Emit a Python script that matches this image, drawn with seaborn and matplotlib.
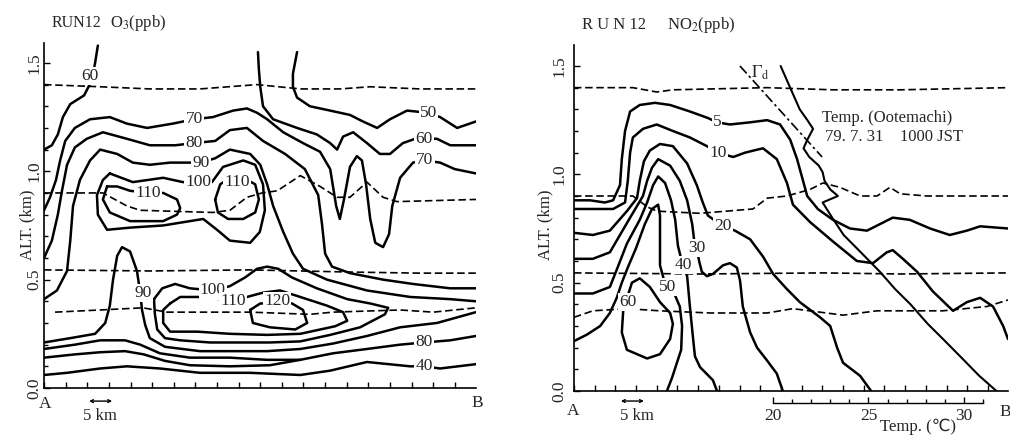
import numpy as np
import pandas as pd
import matplotlib
matplotlib.use("Agg")
from matplotlib import pyplot as plt
from matplotlib.ticker import FixedLocator, MultipleLocator
import seaborn as sns

# Cross sections along A-B, RUN12.  x = distance along the section (km),
# y = altitude (km).  All lines were read off the original figure by eye.

# ---------------- O3 (ppb), left panel ----------------
o3_x_max = 93.9
o3_alt_max = 1.592

o3_dash_top = ([0, 12.2, 23.0, 33.9, 46.3, 55.7, 64.3, 70.9, 81.7, 93.9],
               [1.40, 1.39, 1.38, 1.38, 1.40, 1.38, 1.38, 1.39, 1.38, 1.38])
o3_dash_mid = ([0, 12.8, 18.0, 20.9, 36.7, 40.4, 44.1, 47.4, 50.7, 55.7, 60.0, 63.7, 66.5, 70.2, 73.7, 76.7, 93.9],
               [0.90, 0.90, 0.84, 0.82, 0.81, 0.82, 0.88, 0.90, 0.91, 0.98, 0.93, 0.88, 0.88, 0.95, 0.88, 0.86, 0.87])
o3_dash_low = ([0, 23.0, 44.8, 66.5, 81.7, 93.9],
               [0.545, 0.54, 0.545, 0.535, 0.53, 0.53])
o3_dash_bot = ([2.4, 12.2, 21.5, 26.7, 44.8, 57.8, 62.8, 77.4, 84.6, 93.9],
               [0.35, 0.36, 0.37, 0.35, 0.35, 0.34, 0.35, 0.36, 0.35, 0.37])

o3_60_west = ([11.7, 11.1, 10.4, 8.7, 5.7, 4.1, 3.0, 1.7, 0.0],
              [1.58, 1.50, 1.42, 1.35, 1.31, 1.25, 1.17, 1.12, 1.10])
o3_70 = ([0, 1.3, 2.6, 3.5, 4.6, 6.7, 10.0, 14.3, 18.0, 22.4, 28.0, 32.6, 36.7, 41.1, 44.1, 46.3, 48.5,
          52.0, 56.3, 60.0, 62.2, 63.5, 64.3, 65.2, 66.5, 68.0, 69.1, 70.0, 70.9, 72.0, 73.7, 75.0, 75.7,
          77.4, 80.2, 82.8, 86.1, 89.3, 93.9],
         [0.82, 0.88, 0.96, 1.05, 1.14, 1.20, 1.24, 1.25, 1.22, 1.20, 1.22, 1.24, 1.25, 1.28, 1.29, 1.27, 1.24,
          1.18, 1.13, 1.09, 1.01, 0.84, 0.78, 0.87, 1.02, 1.07, 1.05, 0.94, 0.78, 0.67, 0.65, 0.71, 0.84,
          0.97, 1.04, 1.05, 1.04, 1.01, 0.99])
o3_60_east = ([46.5, 46.7, 47.0, 47.6, 49.8, 55.0, 59.3, 62.2, 63.7, 65.0, 67.2, 70.2, 73.0, 75.2, 78.0,
               80.7, 82.8, 85.4, 88.3, 93.9],
              [1.55, 1.47, 1.39, 1.30, 1.24, 1.20, 1.17, 1.13, 1.10, 1.16, 1.18, 1.13, 1.08, 1.08, 1.13,
               1.15, 1.15, 1.15, 1.12, 1.12])
o3_50 = ([55.0, 54.1, 54.1, 55.0, 57.8, 62.2, 66.5, 69.3, 72.4, 75.2, 78.9, 83.5, 86.1, 89.8, 93.9],
         [1.55, 1.45, 1.39, 1.34, 1.30, 1.28, 1.26, 1.23, 1.20, 1.24, 1.28, 1.27, 1.25, 1.20, 1.23])
o3_80_upper = ([0, 1.7, 3.0, 3.9, 5.0, 6.7, 9.3, 12.8, 18.0, 23.0, 28.5, 32.6, 37.2, 40.4, 44.1, 47.6,
                52.4, 56.7, 59.6, 60.4, 61.1, 62.6, 66.5, 73.7, 80.2, 88.3, 93.9],
               [0.60, 0.68, 0.80, 0.91, 1.03, 1.11, 1.15, 1.18, 1.15, 1.12, 1.12, 1.13, 1.14, 1.19, 1.20, 1.14,
                1.08, 1.01, 0.89, 0.76, 0.62, 0.56, 0.53, 0.50, 0.48, 0.46, 0.46])
o3_90_upper = ([0, 2.8, 5.0, 5.7, 6.3, 7.8, 10.0, 12.2, 15.9, 19.3, 23.0, 27.4, 34.1, 37.2, 40.4, 44.8,
                47.0, 48.5, 49.8, 52.0, 54.1, 56.3, 61.5, 70.2, 79.6, 88.3, 93.9],
               [0.41, 0.45, 0.54, 0.68, 0.84, 0.96, 1.05, 1.10, 1.08, 1.04, 1.03, 1.04, 1.04, 1.06, 1.10, 1.08,
                1.03, 0.94, 0.84, 0.72, 0.62, 0.55, 0.50, 0.45, 0.42, 0.41, 0.40])
o3_100_upper = ([14.3, 19.3, 25.9, 30.2, 33.5, 36.5, 38.9, 43.3, 45.9, 47.6, 48.0, 46.9, 44.8, 40.4, 37.6,
                 34.6, 31.7, 25.9, 18.7, 13.7, 11.7, 11.5, 12.8, 14.3],
                [0.99, 0.95, 0.97, 0.95, 0.95, 0.95, 1.02, 1.05, 1.03, 0.94, 0.82, 0.72, 0.67, 0.68, 0.73,
                 0.78, 0.77, 0.75, 0.74, 0.73, 0.80, 0.89, 0.96, 0.99])
o3_110_west = ([13.7, 15.9, 18.7, 22.6, 25.9, 28.9, 29.6, 28.9, 25.9, 18.7, 14.3, 12.8, 13.7],
               [0.93, 0.93, 0.91, 0.90, 0.90, 0.87, 0.83, 0.80, 0.77, 0.77, 0.81, 0.87, 0.93])
o3_110_east = ([37.2, 38.3, 40.4, 43.3, 45.9, 46.7, 45.9, 43.3, 40.0, 37.8, 37.2],
               [0.87, 0.94, 0.97, 0.97, 0.94, 0.87, 0.81, 0.78, 0.78, 0.81, 0.87])
o3_120 = ([44.8, 47.0, 50.7, 53.9, 56.3, 57.2, 54.6, 49.1, 45.4, 44.8],
          [0.36, 0.39, 0.39, 0.39, 0.36, 0.30, 0.27, 0.28, 0.30, 0.36])
o3_110_lower = ([27.4, 29.6, 33.9, 38.3, 41.1, 44.1, 47.6, 51.3, 55.7, 61.5, 65.0, 65.9, 63.3, 55.7, 48.5,
                 40.4, 33.3, 27.4, 25.9, 25.9, 27.4],
                [0.39, 0.42, 0.42, 0.41, 0.41, 0.42, 0.44, 0.45, 0.42, 0.38, 0.35, 0.31, 0.285, 0.25, 0.245,
                 0.25, 0.26, 0.26, 0.30, 0.36, 0.39])
o3_100_lower = ([23.9, 25.7, 28.5, 31.7, 36.7, 40.4, 43.7, 46.3, 48.5, 50.9, 53.9, 59.3, 65.9, 70.9, 74.8,
                 74.1, 68.7, 62.2, 55.7, 49.1, 42.6, 36.1, 29.6, 26.3, 24.6, 24.1, 23.9],
                [0.41, 0.46, 0.48, 0.46, 0.45, 0.47, 0.51, 0.55, 0.56, 0.55, 0.51, 0.46, 0.41, 0.39, 0.37,
                 0.34, 0.28, 0.245, 0.215, 0.21, 0.21, 0.21, 0.22, 0.23, 0.27, 0.34, 0.41])
o3_90_lower = ([0, 5.7, 11.1, 13.3, 14.3, 15.0, 15.9, 16.95, 18.7, 20.2, 20.9, 21.3, 22.0, 23.0, 26.3, 33.9,
                41.1, 48.5, 55.7, 62.8, 70.2, 77.4, 85.4, 93.9],
               [0.21, 0.23, 0.25, 0.30, 0.38, 0.50, 0.61, 0.65, 0.63, 0.54, 0.44, 0.36, 0.29, 0.23, 0.19, 0.17,
                0.17, 0.17, 0.18, 0.205, 0.24, 0.28, 0.30, 0.35])
o3_80_lower = ([0, 6.7, 12.2, 17.6, 20.9, 25.2, 31.7, 40.4, 48.5, 55.7, 62.8, 70.2, 77.4, 82.6, 88.3, 93.9],
               [0.18, 0.20, 0.22, 0.22, 0.20, 0.16, 0.14, 0.14, 0.13, 0.13, 0.16, 0.18, 0.20, 0.21, 0.22, 0.24])
o3_near_ground = ([0, 6.7, 12.2, 17.6, 21.7, 26.3, 31.7, 40.4, 49.1, 55.7],
                  [0.14, 0.155, 0.165, 0.17, 0.155, 0.125, 0.105, 0.10, 0.105, 0.13])
o3_40 = ([0, 5.0, 12.2, 18.0, 25.2, 33.9, 44.8, 55.7, 62.2, 70.2, 79.6, 82.6, 86.1, 93.9],
         [0.06, 0.07, 0.09, 0.10, 0.09, 0.07, 0.07, 0.06, 0.08, 0.12, 0.10, 0.10, 0.09, 0.11])

o3_labels = [("60", 10.0, 1.44), ("70", 32.6, 1.24), ("80", 32.6, 1.13), ("90", 34.1, 1.04),
             ("100", 33.5, 0.95), ("110", 22.6, 0.90), ("110", 42.0, 0.95), ("50", 83.5, 1.27),
             ("60", 82.6, 1.15), ("70", 82.8, 1.05), ("90", 21.5, 0.44), ("100", 36.7, 0.45),
             ("110", 41.1, 0.40), ("120", 50.7, 0.40), ("80", 82.6, 0.21), ("40", 82.6, 0.10)]

# ---------------- NO2 (ppb), right panel ----------------
no2_x_max = 94.35
no2_alt_max = 1.597

no2_dash_top = ([0, 12.8, 18.0, 21.5, 42.0, 56.3, 70.9, 94.35],
                [1.40, 1.40, 1.38, 1.39, 1.40, 1.39, 1.39, 1.40])
no2_dash_mid = ([0, 12.8, 15.9, 18.0, 27.4, 38.9, 42.0, 46.3, 51.3, 54.1, 57.8, 62.2, 65.9, 68.7, 70.9, 76.7, 94.35],
                [0.90, 0.90, 0.85, 0.83, 0.82, 0.84, 0.89, 0.90, 0.93, 0.96, 0.94, 0.90, 0.90, 0.94, 0.91, 0.90, 0.90])
no2_dash_low = ([0, 27.4, 54.3, 70.9, 94.35], [0.545, 0.54, 0.545, 0.54, 0.545])
no2_dash_bot = ([0, 4.1, 11.5, 18.7, 29.6, 42.0, 47.6, 58.5, 65.9, 73.0, 80.2, 89.8, 94.35],
                [0.34, 0.37, 0.38, 0.37, 0.36, 0.36, 0.38, 0.35, 0.37, 0.37, 0.37, 0.39, 0.42])

no2_5 = ([0, 3.5, 6.7, 8.5, 10.0, 10.4, 11.1, 12.2, 14.3, 17.6, 20.9, 25.2, 29.1, 31.1, 33.9, 38.3, 42.0,
          44.8, 47.0, 48.5, 49.8, 50.7, 53.0, 56.3, 60.0, 63.7, 66.5, 69.3, 73.0, 77.4, 81.7, 85.4, 88.3, 94.35],
         [0.88, 0.88, 0.87, 0.88, 0.95, 1.07, 1.20, 1.29, 1.32, 1.33, 1.32, 1.29, 1.26, 1.24, 1.23, 1.24, 1.25,
          1.23, 1.16, 1.07, 0.97, 0.90, 0.84, 0.79, 0.75, 0.74, 0.77, 0.80, 0.79, 0.75, 0.72, 0.74, 0.76, 0.75])
no2_10 = ([0, 4.1, 8.5, 11.1, 11.7, 12.2, 12.8, 15.0, 18.0, 21.5, 25.2, 28.9, 31.3, 34.6, 37.2, 39.1, 41.1,
           44.1, 46.3, 47.6, 51.3, 56.3, 61.5, 65.0, 68.0, 69.3, 71.5, 74.6, 78.0, 82.4, 85.4, 88.3, 91.1, 93.3, 94.35],
          [0.84, 0.84, 0.84, 0.87, 0.97, 1.10, 1.17, 1.21, 1.23, 1.20, 1.17, 1.13, 1.10, 1.08, 1.10, 1.11, 1.12,
           1.07, 0.96, 0.86, 0.78, 0.69, 0.60, 0.59, 0.64, 0.65, 0.61, 0.55, 0.46, 0.37, 0.41, 0.43, 0.39, 0.30, 0.24])
no2_20 = ([0, 4.1, 7.8, 11.5, 13.7, 14.3, 15.2, 16.5, 18.7, 21.5, 24.6, 26.7, 28.0, 29.1, 32.4, 35.0, 38.3,
           41.1, 43.3, 46.3, 49.1, 53.5, 55.7, 57.2, 58.5, 62.2, 64.6],
          [0.73, 0.72, 0.74, 0.83, 0.89, 0.97, 1.06, 1.11, 1.14, 1.13, 1.05, 0.95, 0.87, 0.81, 0.76, 0.74, 0.70,
           0.62, 0.54, 0.47, 0.41, 0.34, 0.30, 0.20, 0.13, 0.07, 0.0])
no2_30 = ([0, 4.1, 7.8, 10.0, 12.2, 15.0, 15.9, 16.95, 18.3, 20.9, 23.0, 24.6, 25.7, 26.1, 26.7, 27.2, 27.8,
           28.9, 30.2, 32.4, 33.9, 35.4, 36.1, 36.7, 38.3, 39.8, 42.0, 44.1, 45.4],
          [0.61, 0.61, 0.64, 0.72, 0.80, 0.90, 0.97, 1.03, 1.07, 1.04, 0.97, 0.88, 0.77, 0.70, 0.66, 0.60, 0.55,
           0.53, 0.54, 0.58, 0.59, 0.57, 0.51, 0.39, 0.27, 0.20, 0.14, 0.08, 0.0])
no2_40 = ([0, 4.1, 7.8, 9.3, 11.5, 14.3, 15.9, 17.2, 18.3, 19.8, 21.1, 22.0, 22.6, 23.3, 23.7, 24.6, 25.2,
           25.9, 26.3, 27.4, 30.2, 31.1],
          [0.45, 0.45, 0.48, 0.56, 0.68, 0.79, 0.87, 0.95, 0.99, 0.96, 0.88, 0.79, 0.67, 0.61, 0.58, 0.53, 0.39,
           0.24, 0.16, 0.11, 0.05, 0.0])
no2_50 = ([0, 2.8, 5.7, 7.8, 9.3, 10.4, 11.7, 13.5, 15.4, 16.95, 18.3, 18.7, 18.7, 18.7, 19.6, 20.4, 22.0,
           23.0, 23.5, 23.3, 21.3, 20.2],
          [0.23, 0.26, 0.30, 0.36, 0.43, 0.50, 0.57, 0.66, 0.77, 0.84, 0.86, 0.81, 0.70, 0.58, 0.51, 0.48, 0.44,
           0.39, 0.30, 0.19, 0.06, 0.0])
no2_60 = ([11.7, 12.6, 14.3, 16.5, 18.7, 20.9, 21.5, 20.9, 18.7, 15.9, 11.5, 10.4, 10.7, 11.7],
          [0.44, 0.50, 0.52, 0.48, 0.41, 0.36, 0.31, 0.24, 0.17, 0.15, 0.19, 0.27, 0.37, 0.44])

no2_labels = [("5", 31.1, 1.24), ("10", 31.3, 1.10), ("20", 32.4, 0.76), ("30", 26.7, 0.66),
              ("40", 23.7, 0.58), ("50", 20.4, 0.48), ("60", 11.7, 0.41)]

# Temperature profile at Ootemachi (deg C vs km) and the dry adiabat
temp_c = [20.4, 20.7, 21.1, 21.4, 21.8, 22.1, 21.8, 21.6, 21.9, 22.4, 22.6, 22.7, 23.0, 23.4, 22.6,
          23.1, 23.7, 24.6, 25.6, 26.4, 27.2, 28.1, 28.9, 29.8, 30.8, 31.7]
temp_alt = [1.50, 1.44, 1.36, 1.30, 1.25, 1.21, 1.16, 1.12, 1.08, 1.04, 1.01, 0.97, 0.93, 0.90, 0.87,
            0.80, 0.72, 0.64, 0.55, 0.47, 0.40, 0.31, 0.24, 0.16, 0.07, 0.0]
dry_adiabat_c = [18.27, 22.57]
dry_adiabat_alt = [1.50, 1.08]
# where 20 and 30 deg C sit on the distance axis (km)
temp_ref_km = [43.26, 84.78]
temp_ref_c = [20.0, 30.0]


sns.set_theme(style="ticks")
plt.rcParams["font.family"] = ["Liberation Serif", "DejaVu Serif"]
plt.rcParams["mathtext.fontset"] = "stix"

fig = plt.figure(figsize=(10.1, 4.4), dpi=100)
ax_o3 = fig.add_axes([0.0436, 0.1182, 0.4277, 0.7841])
ax_no2 = fig.add_axes([0.5683, 0.1114, 0.4297, 0.7864])


def draw(ax, line, dashed=False):
    df = pd.DataFrame({"x": line[0], "alt": line[1]})
    if dashed:
        style = dict(linewidth=1.2, linestyle=(0, (4.5, 2.2)))
    else:
        style = dict(linewidth=1.8, solid_capstyle="round", solid_joinstyle="round")
    sns.lineplot(data=df, x="x", y="alt", sort=False, estimator=None,
                 color="black", ax=ax, **style)


def put_labels(ax, labels):
    for text, x, y in labels:
        ax.text(x, y, text, ha="center", va="center", fontsize=12.5, zorder=6,
                bbox=dict(boxstyle="square,pad=0.06", fc="white", ec="none"))


def style_axis(ax, xmax, ymax, step, pad):
    ax.set_xlim(0, xmax)
    ax.set_ylim(0, ymax)
    sns.despine(ax=ax)
    ax.set_xlabel("")
    ax.set_ylabel("")
    ax.set_xticks(np.arange(0, xmax + 0.01, step))
    ax.set_xticklabels([])
    ax.set_yticks([0.0, 0.5, 1.0, 1.5])
    ax.set_yticklabels(["0.0", "0.5", "1.0", "1.5"])
    ax.yaxis.set_minor_locator(MultipleLocator(0.1))
    ax.tick_params(which="both", direction="in", color="black", width=1.0)
    ax.tick_params(which="major", length=4)
    ax.tick_params(which="minor", length=3)
    ax.tick_params(axis="y", labelsize=12.5, labelrotation=90, pad=pad)
    for lab in ax.get_yticklabels():
        lab.set_va("center")
    for side in ("left", "bottom"):
        ax.spines[side].set_linewidth(1.2)
        ax.spines[side].set_color("black")


# O3 panel
for line in [o3_dash_top, o3_dash_mid, o3_dash_low, o3_dash_bot]:
    draw(ax_o3, line, dashed=True)
for line in [o3_60_west, o3_70, o3_60_east, o3_50, o3_80_upper, o3_90_upper, o3_100_upper,
             o3_110_west, o3_110_east, o3_120, o3_110_lower, o3_100_lower, o3_90_lower,
             o3_80_lower, o3_near_ground, o3_40]:
    draw(ax_o3, line)
put_labels(ax_o3, o3_labels)
style_axis(ax_o3, o3_x_max, o3_alt_max, 4.7, 1)

# NO2 panel
for line in [no2_dash_top, no2_dash_mid, no2_dash_low, no2_dash_bot]:
    draw(ax_no2, line, dashed=True)
for line in [no2_5, no2_10, no2_20, no2_30, no2_40, no2_50, no2_60]:
    draw(ax_no2, line)
put_labels(ax_no2, no2_labels)

# temperature on its own x scale, sharing the altitude axis
ax_t = ax_no2.twiny()
sns.lineplot(x=temp_c, y=temp_alt, sort=False, estimator=None, color="black",
             linewidth=1.5, ax=ax_t)
sns.lineplot(x=dry_adiabat_c, y=dry_adiabat_alt, sort=False, estimator=None, color="black",
             linewidth=1.2, linestyle=(0, (6, 2, 1.5, 2)), ax=ax_t)
slope = (temp_ref_c[1] - temp_ref_c[0]) / (temp_ref_km[1] - temp_ref_km[0])
ax_t.set_xlim(temp_ref_c[0] - temp_ref_km[0] * slope,
              temp_ref_c[0] + (no2_x_max - temp_ref_km[0]) * slope)
for side in ("top", "left", "right"):
    ax_t.spines[side].set_visible(False)
ax_t.spines["bottom"].set_visible(True)
ax_t.spines["bottom"].set_position(("outward", 8.6))
ax_t.spines["bottom"].set_bounds(20, 31)
ax_t.spines["bottom"].set_linewidth(1.0)
ax_t.spines["bottom"].set_color("black")
ax_t.xaxis.set_ticks_position("bottom")
ax_t.set_xticks([20, 25, 30])
ax_t.xaxis.set_minor_locator(FixedLocator(np.arange(20, 32)))
ax_t.tick_params(axis="x", which="both", direction="in", color="black", width=1.0,
                 labelsize=12.5, pad=4)
ax_t.tick_params(axis="x", which="major", length=4)
ax_t.tick_params(axis="x", which="minor", length=3)
ax_t.set_xlabel("")
ax_t.set_ylabel("")
ax_t.text(19.35, 1.47, r"$\mathit{\Gamma}_{\mathrm{d}}$", fontsize=12.5, ha="center", va="center")
ax_t.text(27.6, -0.104, "Temp. (℃)", transform=ax_t.get_xaxis_transform(), ha="center",
          va="center", fontsize=12, family=["Liberation Serif", "DejaVu Sans"])

style_axis(ax_no2, no2_x_max, no2_alt_max, 4.5, 5)

ax_no2.text(53.9, 1.26, "Temp. (Ootemachi)", ha="left", va="center", fontsize=12)
ax_no2.text(54.6, 1.17, "79. 7. 31    1000 JST", ha="left", va="center", fontsize=12)

# section ends and 5 km scale bars
tr = ax_o3.get_xaxis_transform()
ax_o3.text(0.2, -0.046, "A", transform=tr, ha="center", va="center", fontsize=12.5)
ax_o3.text(94.1, -0.043, "B", transform=tr, ha="center", va="center", fontsize=12.5)
ax_o3.annotate("", xy=(14.8, -0.038), xytext=(9.8, -0.038), xycoords=tr, textcoords=tr,
               arrowprops=dict(arrowstyle="<->", lw=1.0, color="black", mutation_scale=5,
                               shrinkA=0, shrinkB=0))
ax_o3.text(12.2, -0.081, "5 km", transform=tr, ha="center", va="center", fontsize=12)

tr = ax_no2.get_xaxis_transform()
ax_no2.text(-0.2, -0.058, "A", transform=tr, ha="center", va="center", fontsize=12.5)
ax_no2.text(93.7, -0.061, "B", transform=tr, ha="center", va="center", fontsize=12.5)
ax_no2.annotate("", xy=(15.2, -0.029), xytext=(10.2, -0.029), xycoords=tr, textcoords=tr,
                arrowprops=dict(arrowstyle="<->", lw=1.0, color="black", mutation_scale=5,
                                shrinkA=0, shrinkB=0))
ax_no2.text(13.7, -0.072, "5 km", transform=tr, ha="center", va="center", fontsize=12)

ax_no2.set_ylim(0, no2_alt_max)

# titles and axis names
fig.text(0.0515, 0.9477, "RUN12", ha="left", va="center", fontsize=11.5)
fig.text(0.1089, 0.9477, "O$_3$(ppb)", ha="left", va="center", fontsize=12)
fig.text(0.5762, 0.9432, "R U N 12", ha="left", va="center", fontsize=12)
fig.text(0.6604, 0.9432, "NO$_2$(ppb)", ha="left", va="center", fontsize=12)
fig.text(0.0267, 0.4886, "ALT. (km)", rotation=90, ha="center", va="center", fontsize=12)
fig.text(0.5396, 0.4886, "ALT. (km)", rotation=90, ha="center", va="center", fontsize=12)

fig.savefig("out.png", dpi=100, facecolor="white")
